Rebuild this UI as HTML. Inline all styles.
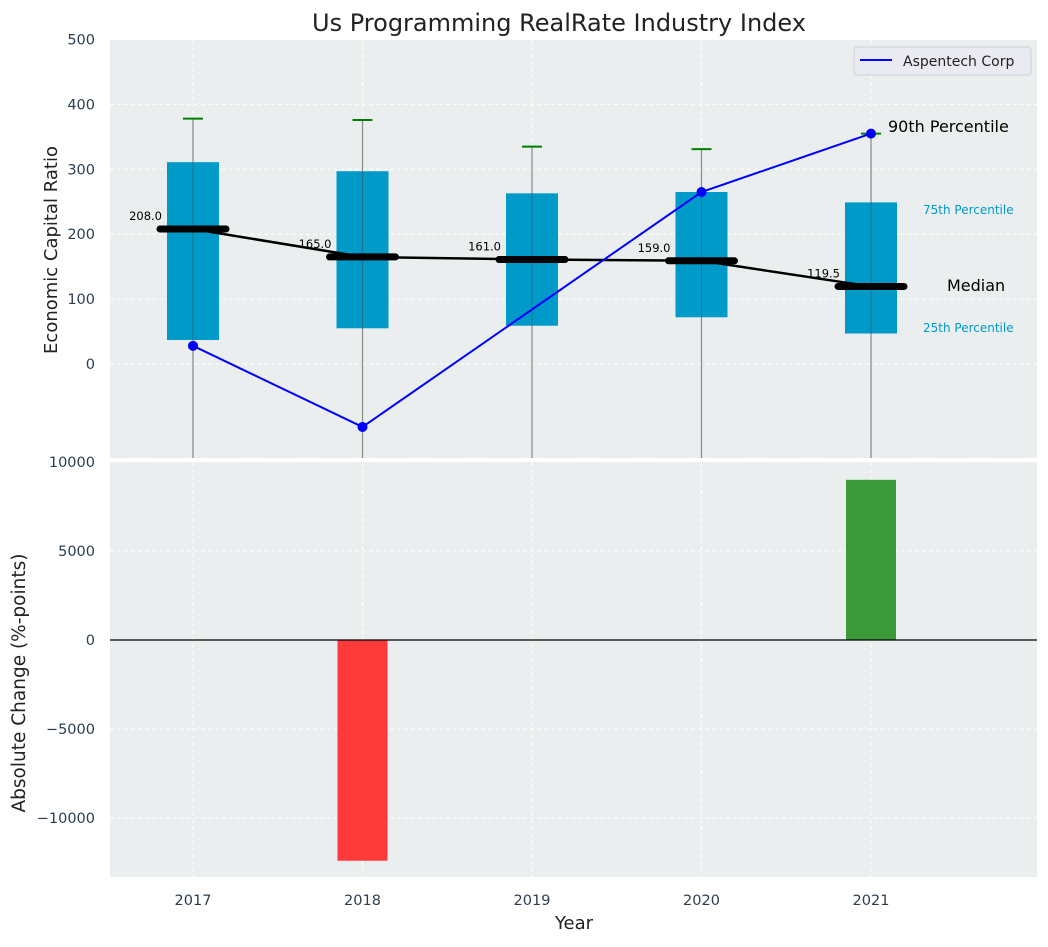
<!DOCTYPE html>
<html><head><meta charset="utf-8"><style>
body{margin:0;background:#fff;font-family:"Liberation Sans","DejaVu Sans",sans-serif}
</style></head><body>
<svg id="c" width="1048" height="942" xmlns="http://www.w3.org/2000/svg" font-family="DejaVu Sans, Liberation Sans, sans-serif"></svg>
<script>
const years=[2017,2018,2019,2020,2021];
const q1=[37,55,59,72,47];
const q3=[311,297,263,265,249];
const medians=[208,165,161,159,119.5];
const caps=[378,376,335,331,355];
const company=[28,-97,null,265,355];
const changes=[0,-12400,0,0,9000];
const topTicks=[0,100,200,300,400,500];
const botTicks=[-10000,-5000,0,5000,10000];

const NS='http://www.w3.org/2000/svg';
const svg=document.getElementById('c');
function el(t,a,p){const e=document.createElementNS(NS,t);for(const k in a)e.setAttribute(k,a[k]);(p||svg).appendChild(e);return e;}
const L=110,R=1037;
const X=v=>193+(v-2017)*169.5;
const T0=40,T1=458,B0=462,B1=877;
const YT=v=>364-v*0.649;
const YB=v=>640-v*0.0178;

let g=el('g',{});
el('rect',{x:L,y:T0,width:R-L,height:T1-T0,fill:'#eaeeef'},g);
let g2=el('g',{});
el('rect',{x:L,y:B0,width:R-L,height:B1-B0,fill:'#eaeeef'},g2);
years.forEach(y=>{
 el('line',{x1:X(y),x2:X(y),y1:T0,y2:T1,stroke:'#fff','stroke-dasharray':'4,3','stroke-width':1},g);
 el('line',{x1:X(y),x2:X(y),y1:B0,y2:B1,stroke:'#fff','stroke-dasharray':'4,3','stroke-width':1},g2);
 const t=el('text',{x:X(y),y:905,'text-anchor':'middle','font-size':14.5,fill:'#2c3e50'});t.textContent=y;
 
});
topTicks.forEach(v=>{
 el('line',{x1:L,x2:R,y1:YT(v),y2:YT(v),stroke:'#fff','stroke-dasharray':'4,3'},g);
 const t=el('text',{x:95,y:YT(v)+5,'text-anchor':'end','font-size':14.5,fill:'#2c3e50'});t.textContent=v;
 
});
botTicks.forEach(v=>{
 el('line',{x1:L,x2:R,y1:YB(v),y2:YB(v),stroke:'#fff','stroke-dasharray':'4,3'},g2);
 const t=el('text',{x:95,y:YB(v)+5,'text-anchor':'end','font-size':14.5,fill:'#2c3e50'});t.textContent=v<0?'\u2212'+(-v):v;
 
});
const cp=el('clipPath',{id:'ct'});el('rect',{x:L,y:T0,width:R-L,height:T1-T0},cp);
const gt=el('g',{'clip-path':'url(#ct)'});
years.forEach((y,i)=>{
 let w=el('line',{x1:X(y),x2:X(y),y1:YT(caps[i]),y2:T1+5,stroke:'#888','stroke-width':1.2},gt);
 
 let b=el('rect',{x:X(y)-26,y:YT(q3[i]),width:52,height:YT(q1[i])-YT(q3[i]),fill:'#009ac9'},gt);
 
 el('line',{x1:X(y),x2:X(y),y1:YT(q3[i]),y2:YT(q1[i]),stroke:'#33556a','stroke-width':1,opacity:0.6},gt);
 let c=el('line',{x1:X(y)-10,x2:X(y)+10,y1:YT(caps[i]),y2:YT(caps[i]),stroke:'green','stroke-width':2},gt);
 
});
let mp=el('polyline',{points:years.map((y,i)=>X(y)+','+YT(medians[i])).join(' '),fill:'none',stroke:'#000','stroke-width':2.5},gt);

years.forEach((y,i)=>{
 let m=el('line',{x1:X(y)-33,x2:X(y)+33,y1:YT(medians[i]),y2:YT(medians[i]),stroke:'#000','stroke-width':7,'stroke-linecap':'round'},gt);
 
 let t=el('text',{x:X(y)-31,y:YT(medians[i])-9,'text-anchor':'end','font-size':11.5,fill:'#000'},gt);t.textContent=medians[i].toFixed(1);
 
});
const pts=[];years.forEach((y,i)=>{if(company[i]!==null)pts.push([X(y),YT(company[i])]);});
let cl=el('polyline',{points:pts.map(p=>p.join(',')).join(' '),fill:'none',stroke:'#0000ff','stroke-width':2},gt);

pts.forEach(p=>{let d=el('circle',{cx:p[0],cy:p[1],r:5,fill:'#0000ff'},gt);});
const ann=[['90th Percentile',888,132,16,'#000'],['Median',947,291,16,'#000'],['75th Percentile',923,214,12,'#009ac9'],['25th Percentile',923,332,12,'#009ac9']];
ann.forEach(a=>{let t=el('text',{x:a[1],y:a[2],'font-size':a[3],fill:a[4]});t.textContent=a[0];});
let lg=el('g',{});
el('rect',{x:854,y:47,width:177,height:28,rx:3,fill:'#eaeaf2',stroke:'#d0d0d0'},lg);
el('line',{x1:860,x2:892,y1:60,y2:60,stroke:'#0000ff','stroke-width':2},lg);
let lt=el('text',{x:903,y:66,'font-size':14,fill:'#222'},lg);lt.textContent='Aspentech Corp';
years.forEach((y,i)=>{
 if(changes[i]===0)return;
 const y0=YB(0),y1=YB(changes[i]);
 let r=el('rect',{x:X(y)-25,y:Math.min(y0,y1),width:50,height:Math.abs(y1-y0),fill:changes[i]<0?'#ff3a3a':'#3b9b3b'},g2);
 
});
el('line',{x1:L,x2:R,y1:YB(0),y2:YB(0),stroke:'#000','stroke-width':1.2},g2);
let tt=el('text',{x:559,y:31,'text-anchor':'middle','font-size':24,fill:'#222'});tt.textContent='Us Programming RealRate Industry Index';
let xl=el('text',{x:574,y:929,'text-anchor':'middle','font-size':18,fill:'#222'});xl.textContent='Year';
let y1=el('text',{x:0,y:0,'text-anchor':'middle','font-size':18,fill:'#222',transform:'translate(57,250) rotate(-90)'});y1.textContent='Economic Capital Ratio';
let y2=el('text',{x:0,y:0,'text-anchor':'middle','font-size':18.5,fill:'#222',transform:'translate(25,683) rotate(-90)'});y2.textContent='Absolute Change (%-points)';
</script>
</body></html>
